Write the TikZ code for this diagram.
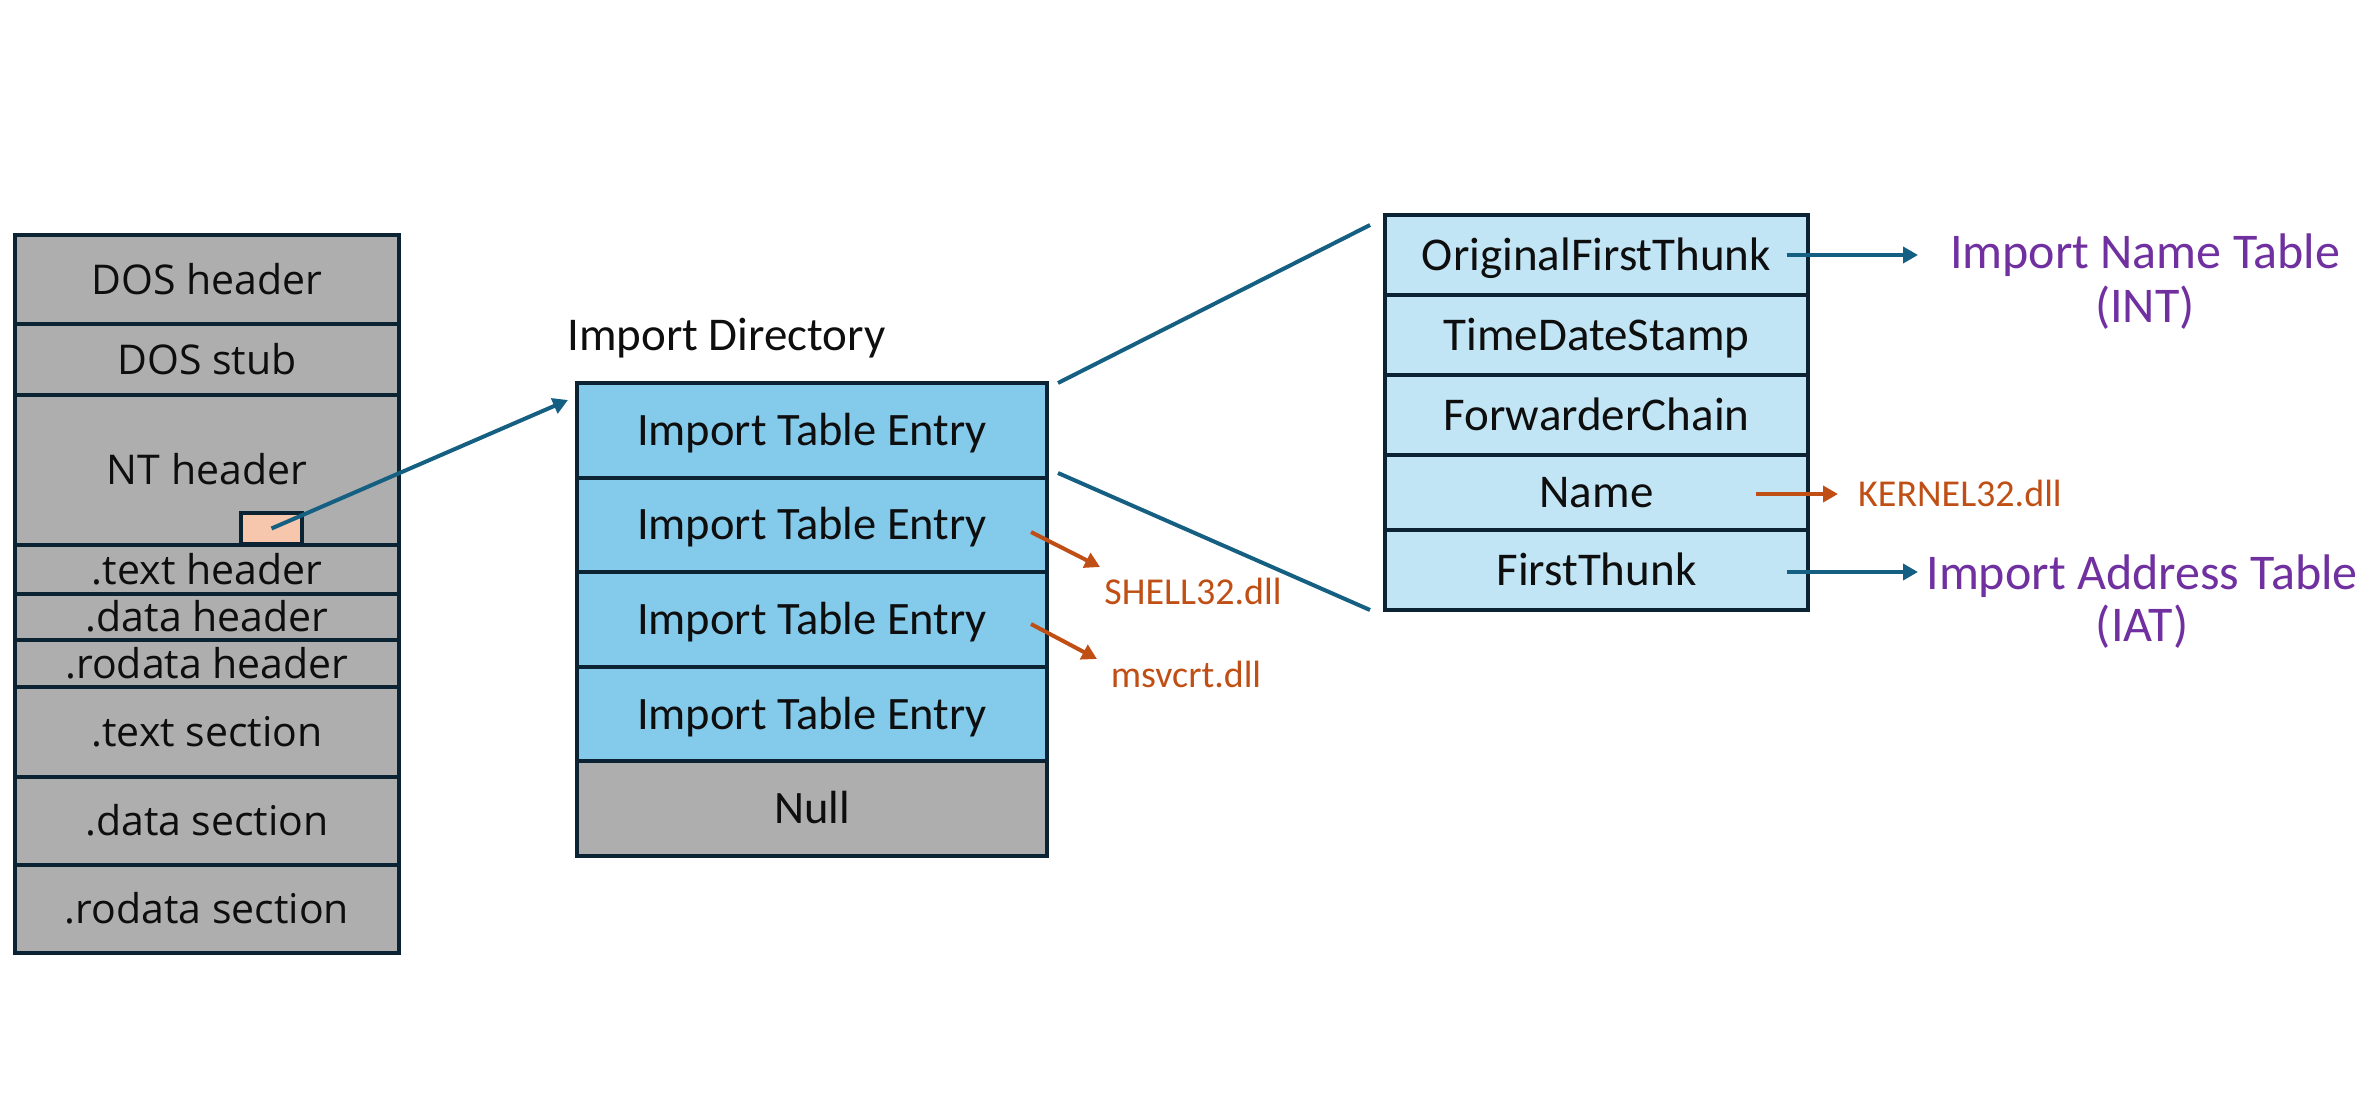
\documentclass[tikz,border=0pt]{standalone}
\usepackage{fontspec}
\setmainfont{Carlito}
\newfontfamily\stackfont{Open Sans}
\usetikzlibrary{arrows.meta,calc}
\definecolor{gfill}{HTML}{AEAEAE}
\definecolor{edgec}{HTML}{0C2333}
\definecolor{entryc}{HTML}{83CAEB}
\definecolor{fieldc}{HTML}{C1E5F5}
\definecolor{arrblue}{HTML}{156082}
\definecolor{orng}{HTML}{C04F15}
\definecolor{purp}{HTML}{7030A0}
\definecolor{pinkc}{HTML}{F6C6AD}
\definecolor{txt}{HTML}{0E0E0E}
\begin{document}
\begin{tikzpicture}[x=1pt,y=-1pt,
  cell/.style={draw=edgec, line width=4pt, inner sep=0pt, text=txt, anchor=center},
  stackcell/.style={cell, fill=gfill, minimum width=384pt,
    font=\stackfont\fontsize{41}{49}\selectfont, text height=29.3pt, text depth=0pt},
  entrycell/.style={cell, fill=entryc, minimum width=470pt, minimum height=94.6pt,
    font=\fontsize{46.5}{56}\selectfont, text height=30pt, text depth=0pt},
  nullcell/.style={entrycell, fill=gfill},
  fieldcell/.style={cell, fill=fieldc, minimum width=423pt,
    font=\fontsize{47}{56}\selectfont, text height=30.3pt, text depth=0pt},
  plainlabel/.style={inner sep=0pt, text=txt, text height=30.3pt, text depth=0pt,
    font=\fontsize{47}{56}\selectfont},
  dlllabel/.style={inner sep=0pt, text=orng, text height=24.5pt, text depth=0pt,
    font=\fontsize{38}{46}\selectfont},
  tablelabel/.style={inner sep=0pt, text=purp, text height=32.2pt, text depth=0pt,
    font=\fontsize{50}{60}\selectfont},
  bluearrow/.style={draw=arrblue, line width=4pt, -{Triangle[length=15pt,width=16pt]}},
  orangearrow/.style={draw=orng, line width=4pt, -{Triangle[length=15pt,width=16pt]}},
  zoomline/.style={draw=arrblue, line width=4pt}
]
\useasboundingbox (0,0) rectangle (2363,1110);

% ---------- PE file layout ----------
\node[stackcell, minimum height=89pt] (dos)     at (207,279.5) {DOS header};
\node[stackcell, minimum height=71pt] (stub)    at (207,359.5) {DOS stub};
\node[stackcell, minimum height=150pt] (nt)     at (207,470)   {NT header};
\node[stackcell, minimum height=49pt] (texth)   at (207,569.5) {.text header};
\node[stackcell, minimum height=46pt] (datah)   at (207,617)   {.data header};
\node[stackcell, minimum height=47pt] (rodatah) at (207,663.5) {.rodata header};
\node[stackcell, minimum height=90pt] (texts)   at (207,732)   {.text section};
\node[stackcell, minimum height=88pt] (datas)   at (207,821)   {.data section};
\node[stackcell, minimum height=88pt] (rodatas) at (207,909)   {.rodata section};
\node[draw=edgec, line width=4pt, fill=pinkc, minimum width=61pt, minimum height=31pt,
      inner sep=0pt] (ptr) at (271.5,528.5) {};

% ---------- Import directory ----------
\node[plainlabel, anchor=west] (idlabel) at (567,335) {Import Directory};
\node[entrycell] (e1) at (812,430.3) {Import Table Entry};
\node[entrycell] (e2) at (812,524.9) {Import Table Entry};
\node[entrycell] (e3) at (812,619.5) {Import Table Entry};
\node[entrycell] (e4) at (812,714.1) {Import Table Entry};
\node[nullcell]  (nul) at (812,808.7) {Null};

\coordinate (ptrtip) at (568,400);
\draw[bluearrow] (ptr.center) -- (ptrtip);

% dll names
\coordinate (s1) at (1031,532);
\coordinate (s2) at (1100,567);
\coordinate (m1) at (1031,624);
\coordinate (m2) at (1097,659);
\node[dlllabel] (shell) at (1193,592) {SHELL32.dll};
\node[dlllabel] (msv)   at (1186,675) {msvcrt.dll};
\draw[orangearrow] (s1) -- (s2);
\draw[orangearrow] (m1) -- (m2);

% ---------- Import descriptor ----------
\node[fieldcell, minimum height=80pt] (oft)  at (1596.5,255)   {OriginalFirstThunk};
\node[fieldcell, minimum height=80pt] (tds)  at (1596.5,335)   {TimeDateStamp};
\node[fieldcell, minimum height=80pt] (fwc)  at (1596.5,415)   {ForwarderChain};
\node[fieldcell, minimum height=75pt] (nam)  at (1596.5,492.5) {Name};
\node[fieldcell, minimum height=80pt] (ft)   at (1596.5,570)   {FirstThunk};

% zoom lines
\coordinate (za) at (1058,383);
\coordinate (zb) at (1370,225);
\coordinate (zc) at (1058,473);
\coordinate (zd) at (1370,610);
\draw[zoomline] (za) -- (zb);
\draw[zoomline] (zc) -- (zd);

% right-hand labels
\node[tablelabel] (int1) at (2145,252) {Import Name Table};
\node[tablelabel] (int2) at (2145,306) {(INT)};
\node[tablelabel] (iat1) at (2142,573) {Import Address Table};
\node[tablelabel] (iat2) at (2142,625) {(IAT)};
\node[dlllabel, anchor=west] (kern) at (1858,494) {KERNEL32.dll};

\coordinate (oftstart) at (1787,255);
\coordinate (oftend) at (1918,255);
\coordinate (ftstart) at (1787,572);
\coordinate (ftend) at (1918,572);
\coordinate (namstart) at (1756,494);
\coordinate (namend) at (1838,494);
\draw[bluearrow] (oftstart) -- (oftend);
\draw[bluearrow] (ftstart) -- (ftend);
\draw[orangearrow] (namstart) -- (namend);
\end{tikzpicture}
\end{document}
